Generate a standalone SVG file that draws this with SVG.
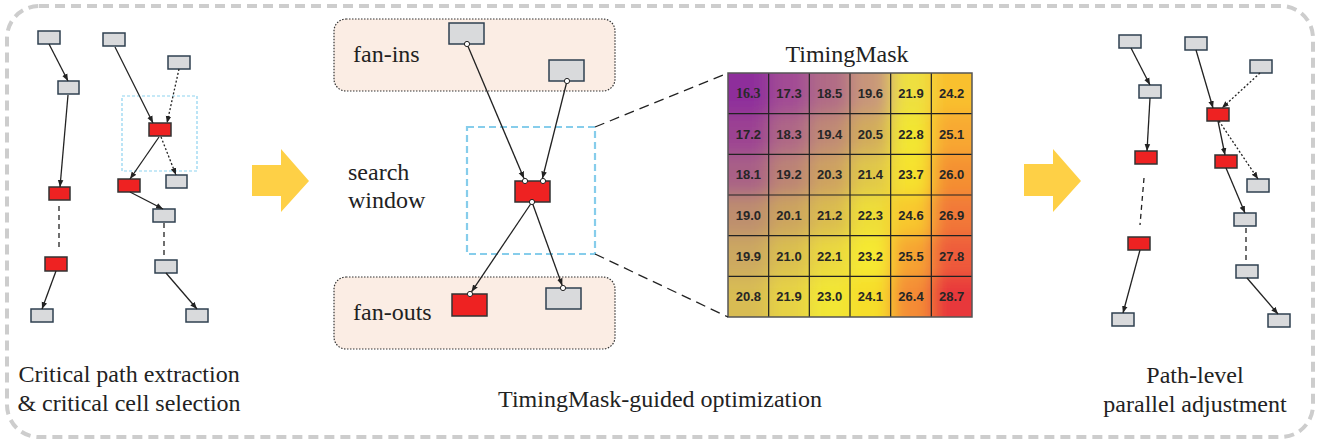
<svg xmlns="http://www.w3.org/2000/svg" width="1320" height="441" viewBox="0 0 1320 441">
<style>
.g{fill:#D9DADC;stroke:#2F4050;stroke-width:1.5}
.r{fill:#EE2222;stroke:#333;stroke-width:1.5}
.c{fill:none;stroke:#222;stroke-width:1.3}
.a{marker-end:url(#ah)}
.dot{stroke-dasharray:2 2}
.dash{stroke-dasharray:5 4}
.pin{fill:#fff;stroke:#222;stroke-width:1}
.t{font-family:'Liberation Serif','DejaVu Serif',serif;font-size:24px;fill:#222}
.n{font-family:'Liberation Sans',Arial,sans-serif;font-size:13px;font-weight:bold;fill:#262626;text-anchor:middle}
.zone{fill:#FBEDE4;stroke:#333;stroke-width:1.2;stroke-dasharray:1.5 1.5}
.yel{fill:#FED046}
</style>
<defs>
<marker id="ah" viewBox="0 0 10 10" refX="10" refY="5" markerWidth="7" markerHeight="7" orient="auto" markerUnits="userSpaceOnUse"><path d="M0,1 L10,5 L0,9 z" fill="#222"/></marker>
<clipPath id="hmclip"><rect x="728" y="73" width="244" height="244"/></clipPath>
<filter id="bl" filterUnits="userSpaceOnUse" x="680" y="30" width="340" height="340"><feGaussianBlur stdDeviation="9"/></filter>
</defs>

<rect x="7" y="6" width="1306" height="431" rx="32" fill="none" stroke="#CDCDCD" stroke-width="4" stroke-dasharray="10 6"/>

<g id="arrow-left"><path class="yel" d="M252,165 H281 V149 L309,181 L281,212 V196 H252 Z"/></g>
<g id="arrow-right"><path class="yel" d="M1024,164 H1053 V149 L1081,181 L1053,212 V196 H1024 Z"/></g>

<!-- Left panel -->
<g id="L-A"><rect class="g" x="38" y="31" width="22" height="13"/></g>
<g id="L-B"><rect class="g" x="58" y="81" width="21" height="13"/></g>
<g id="L-C"><rect class="r" x="49" y="187" width="21" height="13"/></g>
<g id="L-D"><rect class="r" x="45" y="257" width="22" height="14"/></g>
<g id="L-E"><rect class="g" x="31" y="309" width="22" height="13"/></g>
<g id="L-F"><rect class="g" x="103" y="33" width="22" height="13"/></g>
<g id="L-G"><rect class="g" x="168" y="56" width="22" height="13"/></g>
<g id="L-window"><rect x="122" y="96" width="75" height="75" fill="none" stroke="#8ED3F0" stroke-width="1.2" stroke-dasharray="3 2"/></g>
<g id="L-H"><rect class="r" x="149" y="123" width="22" height="13"/></g>
<g id="L-I"><rect class="r" x="118" y="179" width="22" height="13"/></g>
<g id="L-J"><rect class="g" x="166" y="175" width="21" height="13"/></g>
<g id="L-K"><rect class="g" x="153" y="209" width="22" height="13"/></g>
<g id="L-L"><rect class="g" x="155" y="260" width="22" height="13"/></g>
<g id="L-M"><rect class="g" x="186" y="309" width="22" height="13"/></g>
<g id="L-label"><text class="t" x="129" y="382" text-anchor="middle">Critical path extraction</text><text class="t" x="129" y="411" text-anchor="middle">&amp; critical cell selection</text></g>

<!-- Middle panel -->
<g id="fan-ins"><rect class="zone" x="334" y="19" width="281" height="72" rx="12"/><text class="t" x="353" y="62">fan-ins</text></g>
<g id="fan-outs"><rect class="zone" x="334" y="277" width="281" height="72" rx="12"/><text class="t" x="353" y="320">fan-outs</text></g>
<g id="search-label"><text class="t" x="348" y="180">search</text><text class="t" x="348" y="208">window</text></g>
<g id="M-window"><rect x="467" y="127" width="128" height="127" fill="none" stroke="#86CDEB" stroke-width="2.2" stroke-dasharray="7 4"/></g>
<g id="M-N"><rect class="g" x="449" y="23" width="35" height="21"/></g>
<g id="M-O"><rect class="g" x="549" y="60" width="35" height="21"/></g>
<g id="M-P"><rect class="r" x="515" y="181" width="35" height="21"/></g>
<g id="M-Q"><rect class="r" x="452" y="294" width="35" height="22"/></g>
<g id="M-R"><rect class="g" x="546" y="288" width="35" height="21"/></g>
<g id="M-label"><text class="t" x="660" y="407" text-anchor="middle">TimingMask-guided optimization</text></g>

<!-- Heatmap -->
<g id="timingmask">
<text class="t" x="847" y="62" text-anchor="middle">TimingMask</text>
<g clip-path="url(#hmclip)"><g filter="url(#bl)">
<rect x="698" y="43" width="72" height="71" fill="#8E2D9B"/><rect x="768.67" y="43" width="41" height="71" fill="#A24B94"/><rect x="809.33" y="43" width="41" height="71" fill="#B16C86"/><rect x="850" y="43" width="41" height="71" fill="#C8967A"/><rect x="890.67" y="43" width="41" height="71" fill="#EEE040"/><rect x="931.33" y="43" width="71" height="71" fill="#F9C02E"/>
<rect x="698" y="113.67" width="72" height="41" fill="#9C4292"/><rect x="768.67" y="113.67" width="41" height="41" fill="#AF6886"/><rect x="809.33" y="113.67" width="41" height="41" fill="#C08A74"/><rect x="850" y="113.67" width="41" height="41" fill="#D2AC5C"/><rect x="890.67" y="113.67" width="41" height="41" fill="#F2E632"/><rect x="931.33" y="113.67" width="71" height="41" fill="#F8A830"/>
<rect x="698" y="154.33" width="72" height="41" fill="#A96086"/><rect x="768.67" y="154.33" width="41" height="41" fill="#BC8474"/><rect x="809.33" y="154.33" width="41" height="41" fill="#CEA260"/><rect x="850" y="154.33" width="41" height="41" fill="#E0C84A"/><rect x="890.67" y="154.33" width="41" height="41" fill="#F6E22E"/><rect x="931.33" y="154.33" width="71" height="41" fill="#F49032"/>
<rect x="698" y="195" width="72" height="41" fill="#BE8E6E"/><rect x="768.67" y="195" width="41" height="41" fill="#CCA45E"/><rect x="809.33" y="195" width="41" height="41" fill="#DABC50"/><rect x="850" y="195" width="41" height="41" fill="#EEDE38"/><rect x="890.67" y="195" width="41" height="41" fill="#F8C82E"/><rect x="931.33" y="195" width="71" height="41" fill="#F27838"/>
<rect x="698" y="235.67" width="72" height="41" fill="#CCA860"/><rect x="768.67" y="235.67" width="41" height="41" fill="#DABF50"/><rect x="809.33" y="235.67" width="41" height="41" fill="#EAD840"/><rect x="850" y="235.67" width="41" height="41" fill="#F6EA30"/><rect x="890.67" y="235.67" width="41" height="41" fill="#F6A432"/><rect x="931.33" y="235.67" width="71" height="41" fill="#EE5C3A"/>
<rect x="698" y="276.33" width="72" height="71" fill="#D8BC52"/><rect x="768.67" y="276.33" width="41" height="71" fill="#E6D244"/><rect x="809.33" y="276.33" width="41" height="71" fill="#F2E634"/><rect x="850" y="276.33" width="41" height="71" fill="#F6DE2C"/><rect x="890.67" y="276.33" width="41" height="71" fill="#F48C36"/><rect x="931.33" y="276.33" width="71" height="71" fill="#E8383A"/>
</g></g>
<g stroke="#222" stroke-width="1.2">
<path d="M768.67,73 V317 M809.33,73 V317 M850,73 V317 M890.67,73 V317 M931.33,73 V317 M728,113.67 H972 M728,154.33 H972 M728,195 H972 M728,235.67 H972 M728,276.33 H972"/>
</g>
<rect x="728" y="73" width="244" height="244" fill="none" stroke="#555" stroke-width="1.5"/>
<text x="748.33" y="98" style="font-family:'Liberation Serif','DejaVu Serif',serif;font-size:14px;font-weight:bold;fill:#2a2a2a" text-anchor="middle">16.3</text>
<text class="n" x="789" y="98">17.3</text><text class="n" x="829.67" y="98">18.5</text><text class="n" x="870.33" y="98">19.6</text><text class="n" x="911" y="98">21.9</text><text class="n" x="951.67" y="98">24.2</text>
<text class="n" x="748.33" y="138.7">17.2</text><text class="n" x="789" y="138.7">18.3</text><text class="n" x="829.67" y="138.7">19.4</text><text class="n" x="870.33" y="138.7">20.5</text><text class="n" x="911" y="138.7">22.8</text><text class="n" x="951.67" y="138.7">25.1</text>
<text class="n" x="748.33" y="179.4">18.1</text><text class="n" x="789" y="179.4">19.2</text><text class="n" x="829.67" y="179.4">20.3</text><text class="n" x="870.33" y="179.4">21.4</text><text class="n" x="911" y="179.4">23.7</text><text class="n" x="951.67" y="179.4">26.0</text>
<text class="n" x="748.33" y="220">19.0</text><text class="n" x="789" y="220">20.1</text><text class="n" x="829.67" y="220">21.2</text><text class="n" x="870.33" y="220">22.3</text><text class="n" x="911" y="220">24.6</text><text class="n" x="951.67" y="220">26.9</text>
<text class="n" x="748.33" y="260.7">19.9</text><text class="n" x="789" y="260.7">21.0</text><text class="n" x="829.67" y="260.7">22.1</text><text class="n" x="870.33" y="260.7">23.2</text><text class="n" x="911" y="260.7">25.5</text><text class="n" x="951.67" y="260.7">27.8</text>
<text class="n" x="748.33" y="301.4">20.8</text><text class="n" x="789" y="301.4">21.9</text><text class="n" x="829.67" y="301.4">23.0</text><text class="n" x="870.33" y="301.4">24.1</text><text class="n" x="911" y="301.4">26.4</text><text class="n" x="951.67" y="301.4">28.7</text>
</g>

<!-- Right panel -->
<g id="R-a"><rect class="g" x="1119" y="35" width="22" height="13"/></g>
<g id="R-b"><rect class="g" x="1139" y="85" width="22" height="13"/></g>
<g id="R-c"><rect class="r" x="1135" y="151" width="22" height="13"/></g>
<g id="R-d"><rect class="r" x="1128" y="237" width="22" height="13"/></g>
<g id="R-e"><rect class="g" x="1112" y="313" width="22" height="13"/></g>
<g id="R-f"><rect class="g" x="1185" y="37" width="22" height="13"/></g>
<g id="R-g"><rect class="g" x="1250" y="60" width="22" height="13"/></g>
<g id="R-h"><rect class="r" x="1207" y="108" width="22" height="13"/></g>
<g id="R-i"><rect class="r" x="1215" y="155" width="22" height="13"/></g>
<g id="R-j"><rect class="g" x="1247" y="179" width="22" height="13"/></g>
<g id="R-k"><rect class="g" x="1234" y="213" width="22" height="13"/></g>
<g id="R-l"><rect class="g" x="1236" y="265" width="22" height="13"/></g>
<g id="R-m"><rect class="g" x="1268" y="314" width="22" height="13"/></g>
<g id="R-label"><text class="t" x="1195" y="383" text-anchor="middle">Path-level</text><text class="t" x="1195" y="412" text-anchor="middle">parallel adjustment</text></g>

<!-- Connectors -->
<g id="connectors">
<path class="c a" d="M49,44 L68,81"/>
<path class="c a" d="M68,95 L60,187"/>
<path class="c dash" d="M59,206 L59,251"/>
<path class="c a" d="M56,271 L42,309"/>
<path class="c a" d="M115,47 L153,123"/>
<path class="c a dot" d="M179,69 L167,123"/>
<path class="c a" d="M159,137 L130,179"/>
<path class="c a dot" d="M161,137 L176,175"/>
<path class="c a" d="M130,192 L163,209"/>
<path class="c dash" d="M164,223 L164,257"/>
<path class="c a" d="M166,273 L197,309"/>

<path class="c a" d="M467,44 L524,178.5"/>
<path class="c a" d="M567,81 L542.4,178.5"/>
<path class="c a" d="M532,202 L471.5,291.8"/>
<path class="c a" d="M532,202 L562.2,285.5"/>
<path fill="none" stroke="#222" stroke-width="1.3" stroke-dasharray="10 6" d="M595,127 L728,73 M595,254 L728,317"/>
<circle class="pin" cx="467" cy="44" r="2.6"/>
<circle class="pin" cx="567" cy="81" r="2.6"/>
<circle class="pin" cx="525" cy="181" r="2.6"/>
<circle class="pin" cx="543" cy="181" r="2.6"/>
<circle class="pin" cx="532" cy="202" r="2.6"/>
<circle class="pin" cx="470" cy="294" r="2.6"/>
<circle class="pin" cx="563" cy="288" r="2.6"/>

<path class="c a" d="M1131,48 L1150,85"/>
<path class="c a" d="M1150,98 L1147,151"/>
<path class="c dash" d="M1144,178 L1140,225"/>
<path class="c a" d="M1140,250 L1123,313"/>
<path class="c a" d="M1196,50 L1213,108"/>
<path class="c a dot" d="M1260,73 L1222,108"/>
<path class="c a" d="M1218,121 L1225,155"/>
<path class="c a dot" d="M1219,121 L1258,179"/>
<path class="c a" d="M1226,168 L1245,213"/>
<path class="c dash" d="M1246,228 L1246,261"/>
<path class="c a" d="M1247,278 L1278,314"/>
</g>
</svg>
